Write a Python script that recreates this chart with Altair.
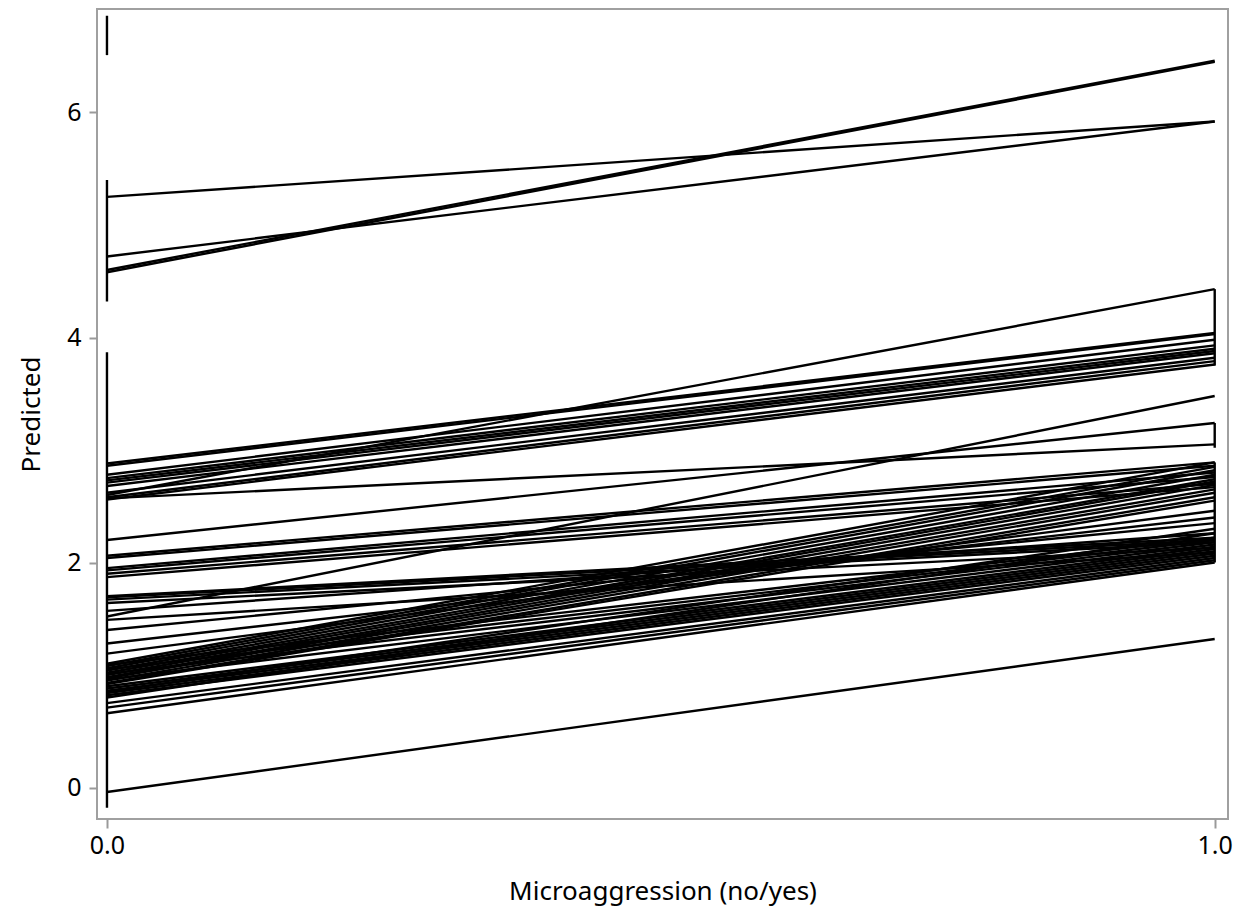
import altair as alt
import pandas as pd

# Predicted value at Microaggression = 0 and = 1 for each subject line
start_vals = [4.58, 4.60, 5.25, 4.72,
              2.88, 2.86, 2.78, 2.75, 2.73, 2.71, 2.68, 2.62, 2.58, 2.56, 2.60,
              2.57, 2.20,
              2.06, 2.04, 1.95, 1.93, 1.90, 1.87,
              1.70, 1.69, 1.67, 1.64, 1.57, 1.49, 1.52,
              1.40, 1.28, 1.19,
              1.10, 1.08, 1.06, 1.04, 1.02, 1.00, 0.98, 0.97, 0.95, 0.93, 0.92,
              1.09, 1.05, 1.01, 0.96, 0.90, 0.88, 0.86, 0.84, 0.82, 0.80, 0.85,
              0.75, 0.71, 0.66,
              -0.04]
end_vals = [6.45, 6.46, 5.92, 5.92,
            4.04, 4.03, 3.98, 3.93, 3.90, 3.88, 3.86, 3.82, 3.79, 3.76, 4.43,
            3.05, 3.24,
            2.89, 2.86, 2.80, 2.76, 2.70, 2.67,
            2.22, 2.20, 2.18, 2.13, 2.26, 2.09, 3.48,
            2.35, 2.40, 2.46,
            2.89, 2.85, 2.82, 2.78, 2.74, 2.72, 2.69, 2.65, 2.62, 2.58, 2.55,
            2.22, 2.20, 2.18, 2.16, 2.14, 2.12, 2.10, 2.08, 2.06, 2.26, 2.30,
            2.04, 2.02, 2.00,
            1.32]

# Vertical connecting segments (x position, low, high)
vert_x = [0.0, 0.0, 0.0, 1.0, 1.0, 1.0]
vert_lo = [6.51, 4.32, -0.18, 3.75, 3.02, 2.00]
vert_hi = [6.86, 5.40, 3.87, 4.43, 3.24, 2.89]

x_ticks = [0.0, 1.0]
y_ticks = [0, 2, 4, 6]

rows = []
gid = 0
for s, e in zip(start_vals, end_vals):
    rows.append({"g": gid, "o": 0, "x": 0.0, "y": s})
    rows.append({"g": gid, "o": 1, "x": 1.0, "y": e})
    gid += 1
for vx, lo, hi in zip(vert_x, vert_lo, vert_hi):
    rows.append({"g": gid, "o": 0, "x": vx, "y": lo})
    rows.append({"g": gid, "o": 1, "x": vx, "y": hi})
    gid += 1
df = pd.DataFrame(rows)

FONT = "Noto Sans"

chart = alt.Chart(df).mark_line(color="black", strokeWidth=2.4, clip=True).encode(
    x=alt.X("x:Q",
            scale=alt.Scale(domain=[-0.009, 1.012], nice=False, zero=False),
            axis=alt.Axis(values=x_ticks, format=".1f", title="Microaggression (no/yes)",
                          grid=False, domain=False, tickColor="#9a9a9a", tickSize=9,
                          tickWidth=2, labelFontSize=25, labelFont=FONT, labelColor="black",
                          labelPadding=5, titleFont=FONT, titleFontSize=26,
                          titleFontWeight="normal", titleColor="black", titlePadding=20)),
    y=alt.Y("y:Q",
            scale=alt.Scale(domain=[-0.28, 6.92], nice=False, zero=False),
            axis=alt.Axis(values=y_ticks, format="d", title="Predicted",
                          grid=False, domain=False, tickColor="#9a9a9a", tickSize=8,
                          tickWidth=2, labelFontSize=25, labelFont=FONT, labelColor="black",
                          labelPadding=8, titleFont=FONT, titleFontSize=26,
                          titleFontWeight="normal", titleColor="black", titlePadding=22)),
    detail="g:N",
    order="o:Q",
).properties(
    width=1131, height=810,
    autosize=alt.AutoSizeParams(type="none"),
    padding={"left": 89, "top": 1, "right": 9, "bottom": 92},
).configure_view(stroke="#a0a0a0", strokeWidth=2)

chart.save("out.html", embed_options={"renderer": "svg", "actions": False})
